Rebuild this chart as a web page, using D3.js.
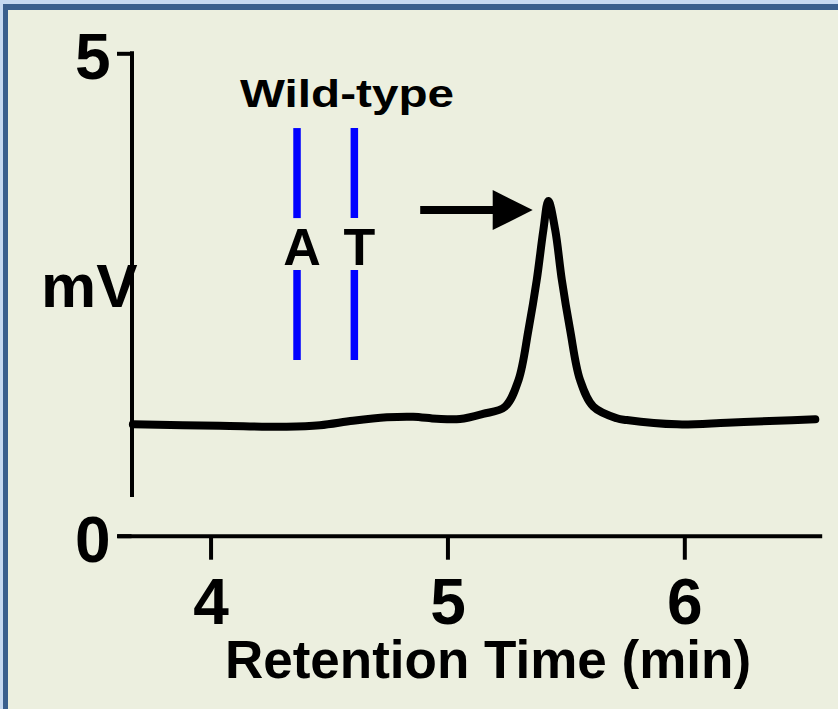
<!DOCTYPE html>
<html lang="en">
<head>
<meta charset="UTF-8">
<script src="https://d3js.org/d3.v7.min.js"></script>
<style>
  body { margin: 0; background: #c6d9f1; }
  svg { display: block; font-family: "Liberation Sans", Arial, sans-serif; font-weight: bold; }
  .axis path, .axis line { stroke: #000; stroke-width: 4px; }
  .axis text { fill: #000; font-size: 64px; font-weight: bold; font-family: "Liberation Sans", Arial, sans-serif; }
  .trace { fill: none; stroke: #000; stroke-width: 8px; stroke-linecap: round; stroke-linejoin: round; }
  .marker { stroke: #0000ff; stroke-width: 7.5px; }
</style>
</head>
<body>
<script>
// chromatogram trace (min, mV)
var retention = [3.672, 4.039, 4.321, 4.462, 4.601, 4.744, 4.855, 4.955, 5.053, 5.150, 5.243,
                 5.300, 5.342, 5.377, 5.405, 5.426, 5.455, 5.483, 5.518, 5.560, 5.616, 5.715,
                 5.757, 5.969, 6.180, 6.391, 6.553];
var signal = [1.154, 1.140, 1.130, 1.145, 1.192, 1.227, 1.233, 1.212, 1.209, 1.262, 1.337,
              1.613, 2.132, 2.650, 3.168, 3.470, 3.168, 2.650, 2.132, 1.613, 1.337, 1.217,
              1.199, 1.154, 1.171, 1.192, 1.206];

// wild-type allele markers
var markerLabels = ["A", "T"];
var markerTimes = [4.365, 4.607];

var xTicks = [4, 5, 6];
var yTicks = [0, 5];

var width = 838, height = 709;

var svg = d3.select("body").append("svg")
  .attr("width", width)
  .attr("height", height);

// slide frame
svg.append("rect").attr("width", width).attr("height", height).attr("fill", "#c6d9f1");
svg.append("rect").attr("x", 3).attr("y", 4).attr("width", width).attr("height", height).attr("fill", "#3a5f8d");
svg.append("rect").attr("x", 8).attr("y", 10).attr("width", width).attr("height", height).attr("fill", "#ecefdf");

// scales
var x = d3.scaleLinear().domain([3.605, 6.58]).range([117, 821.7]);
var y = d3.scaleLinear().domain([0, 5]).range([535.7, 53.3]);
var yAxisX = 131.5;

// x axis
var gx = svg.append("g")
  .attr("class", "axis")
  .attr("transform", "translate(0," + y(0) + ")")
  .call(d3.axisBottom(x).tickValues(xTicks).tickFormat(d3.format("d"))
    .tickSize(24).tickSizeOuter(0).tickPadding(19));
gx.selectAll("text").attr("dy", "0.71em");

// y axis (line stops short of zero, prism style)
var gy = svg.append("g")
  .attr("class", "axis")
  .attr("transform", "translate(" + yAxisX + ",0)")
  .call(d3.axisLeft(y).tickValues(yTicks).tickFormat(d3.format("d"))
    .tickSize(14.5).tickPadding(6.5));
gy.select(".domain").remove();
gy.selectAll("text").attr("dy", "0.40em");
gy.append("line")
  .attr("x1", 0.5).attr("x2", 0.5)
  .attr("y1", y(5) - 2).attr("y2", y(0.4));

// trace
var points = retention.map(function(t, i) { return [t, signal[i]]; });
var line = d3.line()
  .x(function(d) { return x(d[0]); })
  .y(function(d) { return y(d[1]); })
  .curve(d3.curveCatmullRom.alpha(0.5));

svg.append("path")
  .datum(points)
  .attr("class", "trace")
  .attr("d", line);

// blue markers with letters
markerTimes.forEach(function(t, i) {
  svg.append("line").attr("class", "marker")
    .attr("x1", x(t)).attr("x2", x(t))
    .attr("y1", y(4.225)).attr("y2", y(3.292));
  svg.append("line").attr("class", "marker")
    .attr("x1", x(t)).attr("x2", x(t))
    .attr("y1", y(2.754)).attr("y2", y(1.821));
  svg.append("text")
    .attr("x", x(t) + 5)
    .attr("y", 265)
    .attr("text-anchor", "middle")
    .style("font-size", "52px")
    .text(markerLabels[i]);
});

svg.append("text")
  .attr("x", 240)
  .attr("y", 107)
  .attr("textLength", 214)
  .attr("lengthAdjust", "spacingAndGlyphs")
  .style("font-size", "39px")
  .text("Wild-type");

// arrow pointing to the peak
var ay = y(3.375), tail = x(4.885), tip = x(5.36);
svg.append("line")
  .attr("x1", tail).attr("x2", tip - 38)
  .attr("y1", ay).attr("y2", ay)
  .attr("stroke", "#000").attr("stroke-width", 8);
svg.append("path")
  .attr("d", "M" + tip + "," + ay + "L" + (tip - 40) + "," + (ay - 20) + "L" + (tip - 40) + "," + (ay + 20) + "Z")
  .attr("fill", "#000");

// axis titles
svg.append("text")
  .attr("x", 41)
  .attr("y", 307)
  .style("font-size", "62px")
  .text("mV");

svg.append("text")
  .attr("x", 488)
  .attr("y", 678)
  .attr("text-anchor", "middle")
  .style("font-size", "53px")
  .text("Retention Time (min)");
</script>
</body>
</html>
